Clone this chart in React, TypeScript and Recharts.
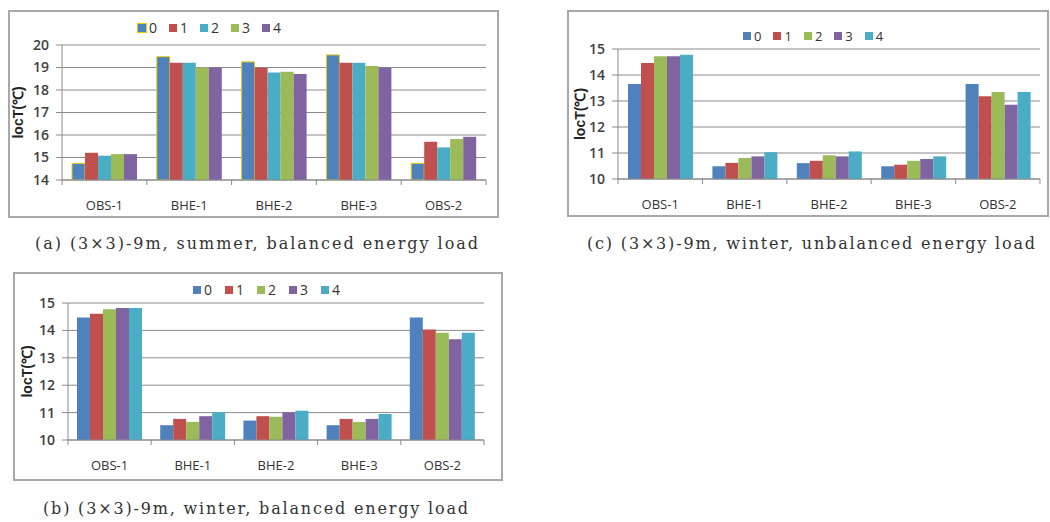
import React from "react"
import { Bar, BarChart, CartesianGrid, Label, XAxis, YAxis } from "recharts"

const categories = ["OBS-1", "BHE-1", "BHE-2", "BHE-3", "OBS-2"]
const seriesNames = ["0", "1", "2", "3", "4"]

// (a) summer, balanced
const summerBal0 = [14.74, 19.48, 19.25, 19.56, 14.74]
const summerBal1 = [15.21, 19.21, 18.99, 19.21, 15.7]
const summerBal2 = [15.08, 19.21, 18.78, 19.21, 15.45]
const summerBal3 = [15.15, 19.0, 18.81, 19.07, 15.82]
const summerBal4 = [15.15, 19.0, 18.71, 18.99, 15.92]

// (b) winter, balanced
const winterBal0 = [14.47, 10.54, 10.71, 10.54, 14.47]
const winterBal1 = [14.61, 10.77, 10.87, 10.77, 14.03]
const winterBal2 = [14.77, 10.66, 10.85, 10.66, 13.91]
const winterBal3 = [14.82, 10.87, 11.01, 10.77, 13.68]
const winterBal4 = [14.82, 11.01, 11.07, 10.95, 13.91]

// (c) winter, unbalanced
const winterUnbal0 = [13.65, 10.49, 10.61, 10.49, 13.65]
const winterUnbal1 = [14.46, 10.62, 10.7, 10.55, 13.18]
const winterUnbal2 = [14.72, 10.81, 10.91, 10.7, 13.35]
const winterUnbal3 = [14.72, 10.87, 10.87, 10.77, 12.86]
const winterUnbal4 = [14.78, 11.03, 11.06, 10.87, 13.35]

const summerTicks = [14, 15, 16, 17, 18, 19, 20]
const winterTicks = [10, 11, 12, 13, 14, 15]

const BLUE = "#4F81BD"
const RED = "#C0504D"
const GREEN = "#9BBB59"
const PURPLE = "#8064A2"
const CYAN = "#4BACC6"

const buildRows = (series: number[][]) =>
  categories.map((cat, i) => {
    const row: Record<string, string | number> = { cat }
    series.forEach((s, k) => (row["s" + k] = s[i]))
    return row
  })

const FONT = "'Open Sans', 'Liberation Sans', sans-serif"
const AXIS = "#8a8a8a"

type PanelProps = {
  left: number
  top: number
  width: number
  height: number
  margin: { top: number; right: number; bottom: number; left: number }
  yWidth: number
  rows: Record<string, string | number>[]
  colors: string[]
  domain: [number, number]
  ticks: number[]
  labelX: number
  legendLeft: number
  legendTop: number
  legendGap: number
  legendFont: number
  outlineFirst?: boolean
}

function Panel(p: PanelProps) {
  const plotW = p.width - p.margin.left - p.margin.right - p.yWidth
  const half = plotW / 10

  const XTick = (props: any) => {
    const { x, y, payload, index } = props
    return (
      <g>
        <line x1={x - half} x2={x - half} y1={y} y2={y + 5} stroke={AXIS} />
        {index === categories.length - 1 && (
          <line x1={x + half} x2={x + half} y1={y} y2={y + 5} stroke={AXIS} />
        )}
        <text x={x} y={y + 25} textAnchor="middle" dominantBaseline="central" fontSize={13} fill="#333" fontFamily={FONT}>
          {payload.value}
        </text>
      </g>
    )
  }

  return (
    <>
      <div style={{ position: "absolute", left: p.left, top: p.top, width: p.width, height: p.height }}>
        <BarChart width={p.width} height={p.height} data={p.rows} margin={p.margin} barGap={0} barSize={13}>
          <CartesianGrid vertical={false} stroke={AXIS} />
          <XAxis
            dataKey="cat"
            axisLine={{ stroke: AXIS }}
            tickLine={false}
            tickSize={0}
            tickMargin={0}
            height={30}
            interval={0}
            tick={XTick}
          />
          <YAxis
            domain={p.domain}
            ticks={p.ticks}
            interval={0}
            allowDataOverflow
            width={p.yWidth}
            axisLine={{ stroke: AXIS }}
            tickLine={{ stroke: AXIS }}
            tickSize={6}
            tickMargin={7}
            tick={{ fontSize: 14, fill: "#404040", fontFamily: FONT, fontWeight: 600 }}
          >
            <Label
              content={({ viewBox }: any) => {
                const cy = viewBox.y + viewBox.height / 2
                return (
                  <text
                    x={p.labelX}
                    y={cy}
                    transform={`rotate(-90, ${p.labelX}, ${cy})`}
                    textAnchor="middle"
                    dominantBaseline="central"
                    fontSize={14}
                    fontWeight={700}
                    fill="#222"
                    fontFamily="'Liberation Sans', Arial, sans-serif"
                  >
                    locT(℃)
                  </text>
                )
              }}
            />
          </YAxis>
          {seriesNames.map((n, i) => (
            <Bar
              key={n}
              dataKey={"s" + i}
              name={n}
              fill={p.colors[i]}
              stroke={p.outlineFirst && i === 0 ? "#e8cc10" : undefined}
              strokeWidth={p.outlineFirst && i === 0 ? 1 : 0}
              isAnimationActive={false}
            />
          ))}
        </BarChart>
        <div
          style={{
            position: "absolute",
            left: p.legendLeft,
            top: p.legendTop,
            display: "flex",
            gap: p.legendGap,
            fontFamily: FONT,
            fontSize: p.legendFont,
            color: "#333",
            whiteSpace: "nowrap",
          }}
        >
          {seriesNames.map((n, i) => (
            <div key={n} style={{ display: "flex", alignItems: "center", gap: 3 }}>
              <span
                style={{
                  display: "inline-block",
                  width: 8,
                  height: 8,
                  background: p.colors[i],
                  outline: p.outlineFirst && i === 0 ? "1.5px solid #e8cc10" : undefined,
                }}
              />
              <span>{n}</span>
            </div>
          ))}
        </div>
      </div>
      <div
        style={{
          position: "absolute",
          left: p.left,
          top: p.top,
          width: p.width,
          height: p.height,
          border: "2px solid #a8a8a8",
          boxSizing: "border-box",
          pointerEvents: "none",
        }}
      />
    </>
  )
}

function Caption({ x, y, w, text }: { x: number; y: number; w: number; text: string }) {
  return (
    <svg style={{ position: "absolute", left: x, top: y - 14, overflow: "visible" }} width={w + 10} height={28}>
      <text
        x={0}
        y={14}
        dominantBaseline="central"
        textLength={w}
        lengthAdjust="spacing"
        fontSize={16}
        fill="#333"
        fontFamily="'DejaVu Serif', 'Liberation Serif', serif"
      >
        {text}
      </text>
    </svg>
  )
}

export default function App() {
  return (
    <div style={{ position: "absolute", left: 0, top: 0, width: 1050, height: 522, background: "#fff" }}>
      <Panel
        left={8}
        top={10}
        width={491}
        height={208}
        margin={{ top: 35, right: 13, bottom: 8, left: 14 }}
        yWidth={40}
        rows={buildRows([summerBal0, summerBal1, summerBal2, summerBal3, summerBal4])}
        colors={[BLUE, RED, CYAN, GREEN, PURPLE]}
        domain={[14, 20]}
        ticks={summerTicks}
        labelX={10}
        legendLeft={130}
        legendTop={8}
        legendGap={12}
        legendFont={14}
        outlineFirst
      />
      <Panel
        left={567}
        top={10}
        width={482}
        height={207}
        margin={{ top: 39, right: 9, bottom: 8, left: 11 }}
        yWidth={40}
        rows={buildRows([winterUnbal0, winterUnbal1, winterUnbal2, winterUnbal3, winterUnbal4])}
        colors={[BLUE, RED, GREEN, PURPLE, CYAN]}
        domain={[10, 15]}
        ticks={winterTicks}
        labelX={13}
        legendLeft={176}
        legendTop={17}
        legendGap={12}
        legendFont={13}
      />
      <Panel
        left={13}
        top={272}
        width={490}
        height={209}
        margin={{ top: 31, right: 19, bottom: 11, left: 15 }}
        yWidth={40}
        rows={buildRows([winterBal0, winterBal1, winterBal2, winterBal3, winterBal4])}
        colors={[BLUE, RED, GREEN, PURPLE, CYAN]}
        domain={[10, 15]}
        ticks={winterTicks}
        labelX={14}
        legendLeft={180}
        legendTop={8}
        legendGap={13}
        legendFont={14}
      />
      <Caption x={35} y={243} w={443} text="(a) (3×3)-9m, summer, balanced energy load" />
      <Caption x={587} y={243} w={448} text="(c) (3×3)-9m, winter, unbalanced energy load" />
      <Caption x={43} y={508} w={425} text="(b) (3×3)-9m, winter, balanced energy load" />
    </div>
  )
}
